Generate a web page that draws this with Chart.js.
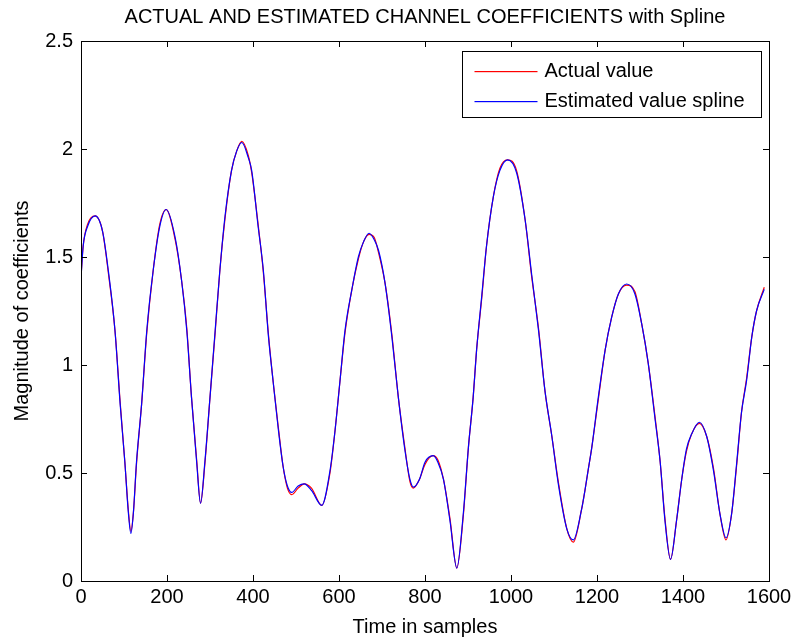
<!DOCTYPE html>
<html>
<head>
<meta charset="utf-8">
<script src="https://cdn.jsdelivr.net/npm/chart.js@4/dist/chart.umd.min.js"></script>
<style>
  body { margin: 0; background: #fff; }
  #wrap { width: 797px; height: 643px; position: relative; }
</style>
</head>
<body>
<div id="wrap"><canvas id="chart"></canvas></div>
<script>
// time axis (samples) and the two series
const sampleTimes = [
  0, 5, 15, 33, 50, 64, 79, 91, 102, 110, 116, 122, 129, 141, 153, 168, 183, 198,
  219, 234, 246, 257, 269, 278, 288, 300, 312, 323, 335, 350, 362, 374, 389, 397,
  412, 424, 436, 447, 459, 470, 480, 490, 505, 519, 536, 560, 579, 591, 602, 614,
  630, 645, 657, 670, 682, 692, 707, 723, 738, 753, 765, 773, 787, 800, 819, 830,
  843, 858, 874, 889, 901, 912, 920, 932, 943, 959, 974, 992, 1013, 1033, 1048,
  1064, 1079, 1095, 1110, 1130, 1145, 1164, 1172, 1180, 1188, 1203, 1219, 1234,
  1250, 1269, 1288, 1304, 1319, 1335, 1347, 1358, 1371, 1385, 1397, 1408, 1420,
  1438, 1455, 1471, 1486, 1500, 1513, 1525, 1536, 1548, 1560, 1571, 1589
];

const estimatedValues = [
  1.40, 1.55, 1.64, 1.69, 1.62, 1.43, 1.16, 0.82, 0.55, 0.32, 0.22, 0.32, 0.55, 0.82, 1.16, 1.44, 1.64, 1.72,
  1.59, 1.39, 1.16, 0.85, 0.55, 0.36, 0.55, 0.85, 1.16, 1.44, 1.69, 1.90, 1.99, 2.03, 1.96, 1.90,
  1.64, 1.44, 1.13, 0.92, 0.70, 0.53, 0.44, 0.41, 0.44, 0.45, 0.42, 0.35, 0.51, 0.70, 0.92, 1.16,
  1.35, 1.50, 1.57, 1.61, 1.58, 1.53, 1.38, 1.13, 0.85, 0.61, 0.47, 0.435, 0.47, 0.55, 0.58, 0.55,
  0.47, 0.28, 0.06, 0.31, 0.62, 0.85, 1.07, 1.32, 1.55, 1.78, 1.90, 1.95, 1.89, 1.67, 1.42,
  1.16, 0.88, 0.67, 0.45, 0.24, 0.19, 0.33, 0.42, 0.52, 0.62, 0.85, 1.07, 1.22,
  1.33, 1.375, 1.33, 1.19, 1.01, 0.75, 0.55, 0.28, 0.10, 0.28, 0.47, 0.61, 0.68,
  0.735, 0.67, 0.51, 0.31, 0.20, 0.31, 0.55, 0.78, 0.93, 1.13, 1.25, 1.35
];

const actualValues = [
  1.41, 1.55, 1.65, 1.69, 1.62, 1.42, 1.16, 0.83, 0.55, 0.33, 0.23, 0.32, 0.54, 0.82, 1.15, 1.44, 1.65, 1.72,
  1.58, 1.39, 1.17, 0.85, 0.56, 0.36, 0.54, 0.85, 1.15, 1.44, 1.68, 1.90, 1.99, 2.035, 1.97, 1.89,
  1.65, 1.43, 1.14, 0.92, 0.71, 0.53, 0.43, 0.40, 0.43, 0.45, 0.43, 0.35, 0.50, 0.70, 0.92, 1.15,
  1.35, 1.49, 1.57, 1.605, 1.59, 1.52, 1.38, 1.14, 0.85, 0.62, 0.46, 0.43, 0.47, 0.54, 0.58, 0.56,
  0.47, 0.29, 0.06, 0.30, 0.62, 0.85, 1.07, 1.31, 1.55, 1.78, 1.91, 1.95, 1.90, 1.67, 1.41,
  1.17, 0.88, 0.67, 0.46, 0.24, 0.18, 0.33, 0.42, 0.52, 0.62, 0.84, 1.07, 1.22,
  1.33, 1.37, 1.34, 1.19, 1.01, 0.76, 0.55, 0.29, 0.10, 0.28, 0.47, 0.60, 0.68,
  0.73, 0.67, 0.52, 0.31, 0.19, 0.31, 0.54, 0.78, 0.94, 1.13, 1.25, 1.36
];

const seriesLabels = ["Actual value", "Estimated value spline"];
const seriesColors = ["#ff0000", "#0000ff"];

const FONT = "'Liberation Sans', Arial, sans-serif";

function makeDataset(label, values, color, order) {
  return {
    label,
    data: sampleTimes.map((t, i) => ({ x: t, y: values[i] })),
    borderColor: color,
    backgroundColor: "transparent",
    borderWidth: 1.2,
    pointRadius: 0,
    order: order,
    cubicInterpolationMode: "monotone"
  };
}

// MATLAB style frame with inward ticks on all four sides, plus boxed legend
const matlabBox = {
  id: "matlabBox",
  afterDraw(chart) {
    let { ctx, chartArea: a, scales: { x, y } } = chart;
    ctx.save();
    ctx.strokeStyle = "#000";
    ctx.lineWidth = 1;
    ctx.strokeRect(a.left + 0.5, a.top + 0.5, a.right - a.left, a.bottom - a.top);
    ctx.beginPath();
    x.ticks.forEach(t => {
      let px = Math.round(x.getPixelForValue(t.value)) + 0.5;
      ctx.moveTo(px, a.bottom); ctx.lineTo(px, a.bottom - 6);
      ctx.moveTo(px, a.top); ctx.lineTo(px, a.top + 6);
    });
    y.ticks.forEach(t => {
      let py = Math.round(y.getPixelForValue(t.value)) + 0.5;
      ctx.moveTo(a.left, py); ctx.lineTo(a.left + 6, py);
      ctx.moveTo(a.right, py); ctx.lineTo(a.right - 6, py);
    });
    ctx.stroke();

    // legend
    let w = 299, h = 66;
    let bx = Math.round(a.right - 8 - w) + 0.5, by = Math.round(a.top + 10) + 0.5;
    ctx.fillStyle = "#fff";
    ctx.fillRect(bx, by, w, h);
    ctx.strokeRect(bx, by, w, h);
    ctx.font = "20px " + FONT;
    ctx.textBaseline = "middle";
    ctx.textAlign = "left";
    seriesLabels.forEach((label, i) => {
      let ry = Math.round(by + 19 + i * 30);
      ctx.fillStyle = seriesColors[i];
      ctx.fillRect(bx + 12, ry, 63, 1.2);
      ctx.fillStyle = "#000";
      ctx.fillText(label, bx + 82, ry);
    });
    ctx.restore();
  }
};

new Chart(document.getElementById("chart").getContext("2d"), {
  type: "line",
  data: {
    datasets: [
      makeDataset(seriesLabels[0], actualValues, seriesColors[0], 2),
      makeDataset(seriesLabels[1], estimatedValues, seriesColors[1], 1)
    ]
  },
  options: {
    responsive: true,
    maintainAspectRatio: false,
    animation: false,
    layout: { padding: { left: 0, right: 28, top: 0, bottom: 0 } },
    plugins: {
      legend: { display: false },
      tooltip: { enabled: false },
      title: {
        display: true,
        fullSize: false,
        text: "ACTUAL AND ESTIMATED CHANNEL COEFFICIENTS with Spline",
        color: "#000",
        font: { family: FONT, size: 20, weight: "normal", lineHeight: 1.2 },
        padding: { top: 5, bottom: 12 }
      }
    },
    scales: {
      x: {
        type: "linear",
        min: 0,
        max: 1600,
        afterFit: s => { s.height = 62; },
        ticks: {
          stepSize: 200, color: "#000", font: { family: FONT, size: 20 }, padding: 4, maxRotation: 0,
          callback: v => String(v)
        },
        grid: { display: false, drawTicks: false },
        border: { display: false },
        title: {
          display: true,
          text: "Time in samples",
          color: "#000",
          font: { family: FONT, size: 20, lineHeight: 1.2 },
          padding: { top: 0, bottom: 4 }
        }
      },
      y: {
        min: 0,
        max: 2.5,
        afterFit: s => { s.width = 81; },
        ticks: {
          stepSize: 0.5, color: "#000", font: { family: FONT, size: 20 }, padding: 8,
          callback: v => String(v)
        },
        grid: { display: false, drawTicks: false },
        border: { display: false },
        title: {
          display: true,
          text: "Magnitude of coefficients",
          color: "#000",
          font: { family: FONT, size: 20, lineHeight: 1.2 },
          padding: { top: 10, bottom: 0 }
        }
      }
    }
  },
  plugins: [matlabBox]
});
</script>
</body>
</html>
